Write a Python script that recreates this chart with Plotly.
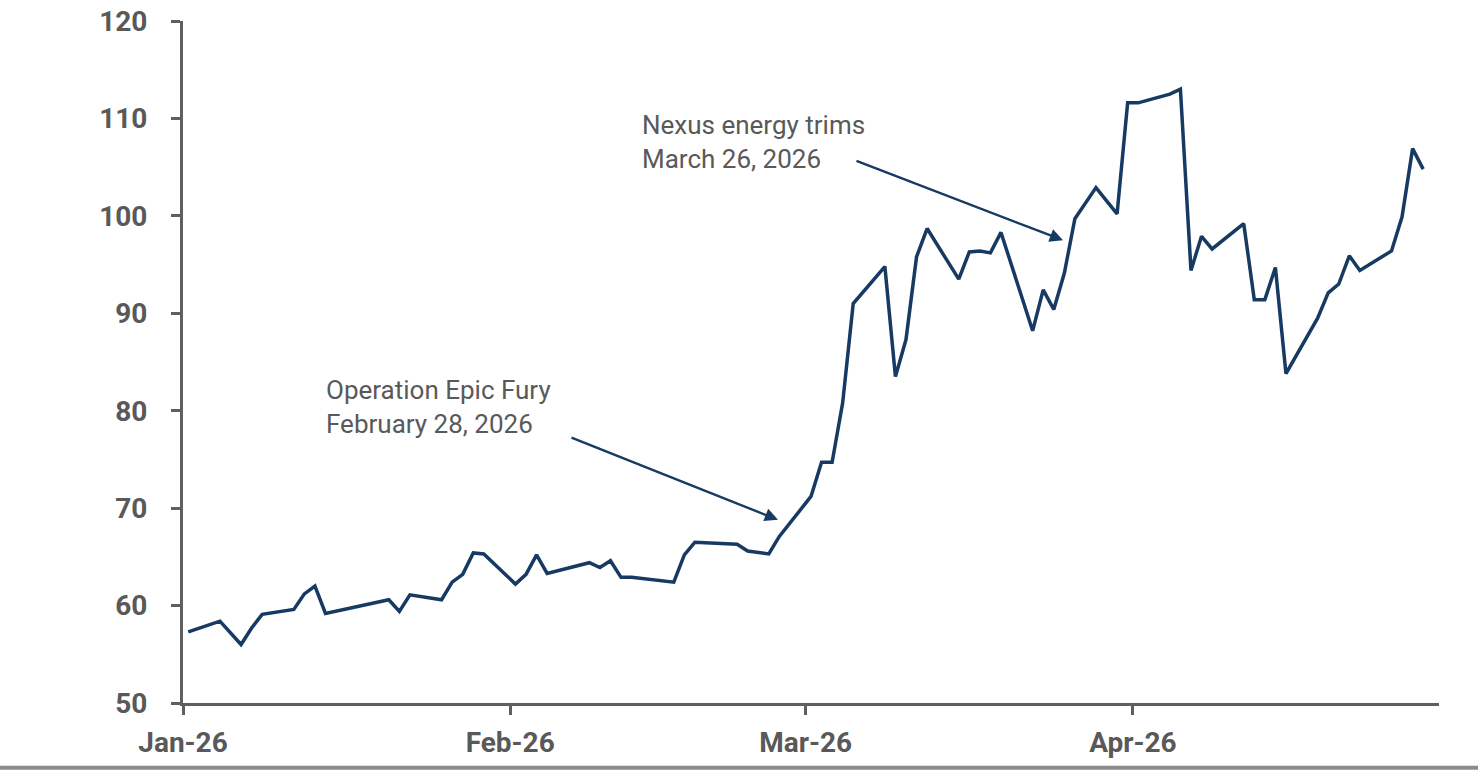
import plotly.graph_objects as go
import pandas as pd

# daily readings
dates = [
    "2026-01-01", "2026-01-04", "2026-01-06", "2026-01-07", "2026-01-08",
    "2026-01-11", "2026-01-12", "2026-01-13", "2026-01-14", "2026-01-20",
    "2026-01-21", "2026-01-22", "2026-01-25", "2026-01-26", "2026-01-27",
    "2026-01-28", "2026-01-29", "2026-02-01", "2026-02-02", "2026-02-03",
    "2026-02-04", "2026-02-08", "2026-02-09", "2026-02-10", "2026-02-11",
    "2026-02-12", "2026-02-16", "2026-02-17", "2026-02-18", "2026-02-22",
    "2026-02-23", "2026-02-25", "2026-02-26", "2026-03-01", "2026-03-02",
    "2026-03-03", "2026-03-04", "2026-03-05", "2026-03-08", "2026-03-09",
    "2026-03-10", "2026-03-11", "2026-03-12", "2026-03-15", "2026-03-16",
    "2026-03-17", "2026-03-18", "2026-03-19", "2026-03-22", "2026-03-23",
    "2026-03-24", "2026-03-25", "2026-03-26", "2026-03-28", "2026-03-30",
    "2026-03-31", "2026-04-01", "2026-04-04", "2026-04-05", "2026-04-06",
    "2026-04-07", "2026-04-08", "2026-04-11", "2026-04-12", "2026-04-13",
    "2026-04-14", "2026-04-15", "2026-04-18", "2026-04-19", "2026-04-20",
    "2026-04-21", "2026-04-22", "2026-04-25", "2026-04-26", "2026-04-27",
    "2026-04-28",
]
values = [
    57.3, 58.4, 56.0, 57.7, 59.1,
    59.6, 61.2, 62.0, 59.2, 60.6,
    59.4, 61.1, 60.6, 62.4, 63.2,
    65.4, 65.3, 62.2, 63.2, 65.2,
    63.3, 64.4, 63.9, 64.6, 62.9,
    62.9, 62.4, 65.2, 66.5, 66.3,
    65.6, 65.3, 67.1, 71.2, 74.7,
    74.7, 80.8, 91.0, 94.8, 83.5,
    87.3, 95.8, 98.7, 93.5, 96.3,
    96.4, 96.2, 98.3, 88.2, 92.4,
    90.4, 94.1, 99.7, 102.9, 100.2,
    111.6, 111.6, 112.5, 113.0, 94.4,
    97.9, 96.6, 99.2, 91.4, 91.4,
    94.7, 83.8, 89.5, 92.1, 93.0,
    95.9, 94.4, 96.4, 99.9, 106.9,
    104.8,
]
tick_dates = ["2026-01-01", "2026-02-01", "2026-03-01", "2026-04-01"]
tick_labels = ["Jan-26", "Feb-26", "Mar-26", "Apr-26"]

LINE = "#173a63"
AXIS = "#5f5f5f"
TEXT = "#595959"
FONT = "Roboto, Liberation Sans, sans-serif"

# points sit in the middle of each day, like the source chart
x = pd.to_datetime(dates) + pd.Timedelta(hours=12)

fig = go.Figure()
fig.add_trace(go.Scatter(
    x=x, y=values, mode="lines",
    line=dict(color=LINE, width=3.5),
    hoverinfo="x+y", showlegend=False,
))

notes = [
    ("Operation Epic Fury<br>February 28, 2026", "2026-01-14 08:00", 80.4,
     ("2026-02-06 16:00", 77.3), ("2026-02-26 09:00", 68.8)),
    ("Nexus energy trims<br>March 26, 2026", "2026-02-13 08:00", 107.6,
     ("2026-03-05 16:00", 105.7), ("2026-03-25 09:00", 97.5)),
]
for text, tx, ty, tail, tip in notes:
    fig.add_annotation(
        x=tx, y=ty, xref="x", yref="y", text=text, showarrow=False,
        xanchor="left", yanchor="middle", align="left",
        font=dict(family=FONT, size=26, color=TEXT),
    )
    fig.add_annotation(
        x=tip[0], y=tip[1], ax=tail[0], ay=tail[1],
        xref="x", yref="y", axref="x", ayref="y", text="",
        showarrow=True, arrowhead=2, arrowsize=1.1, arrowwidth=2.4,
        arrowcolor=LINE,
    )

# grey rule along the bottom of the page
fig.add_shape(
    type="line", xref="paper", yref="paper",
    x0=-0.2, x1=1.1, y0=-0.095, y1=-0.095,
    line=dict(color="#8c8c86", width=4),
)

fig.update_layout(
    width=1478, height=773,
    margin=dict(l=183, r=39, t=21, b=70),
    paper_bgcolor="white", plot_bgcolor="white",
    font=dict(family=FONT, color=TEXT),
    xaxis=dict(
        type="date", automargin=False,
        range=["2026-01-01", "2026-04-30"],
        tickvals=tick_dates, ticktext=tick_labels,
        ticks="outside", ticklen=9, tickwidth=3, tickcolor=AXIS,
        showline=True, linecolor=AXIS, linewidth=3,
        showgrid=False, zeroline=False,
        tickfont=dict(family=FONT, size=28, color=TEXT, weight="bold"),
        ticklabelstandoff=3, ticklabeloverflow="allow",
    ),
    yaxis=dict(
        range=[50, 120], dtick=10, automargin=False,
        ticks="outside", ticklen=9, tickwidth=3, tickcolor=AXIS,
        showline=True, linecolor=AXIS, linewidth=3,
        showgrid=False, zeroline=False,
        tickfont=dict(family=FONT, size=28, color=TEXT, weight="bold"),
        ticklabelstandoff=18, ticklabeloverflow="allow",
    ),
)

# drop the default body margin so the figure fills the window exactly
fig.write_html(
    "out.html",
    config={"displayModeBar": False},
    post_script="document.body.style.margin = '0';",
)
